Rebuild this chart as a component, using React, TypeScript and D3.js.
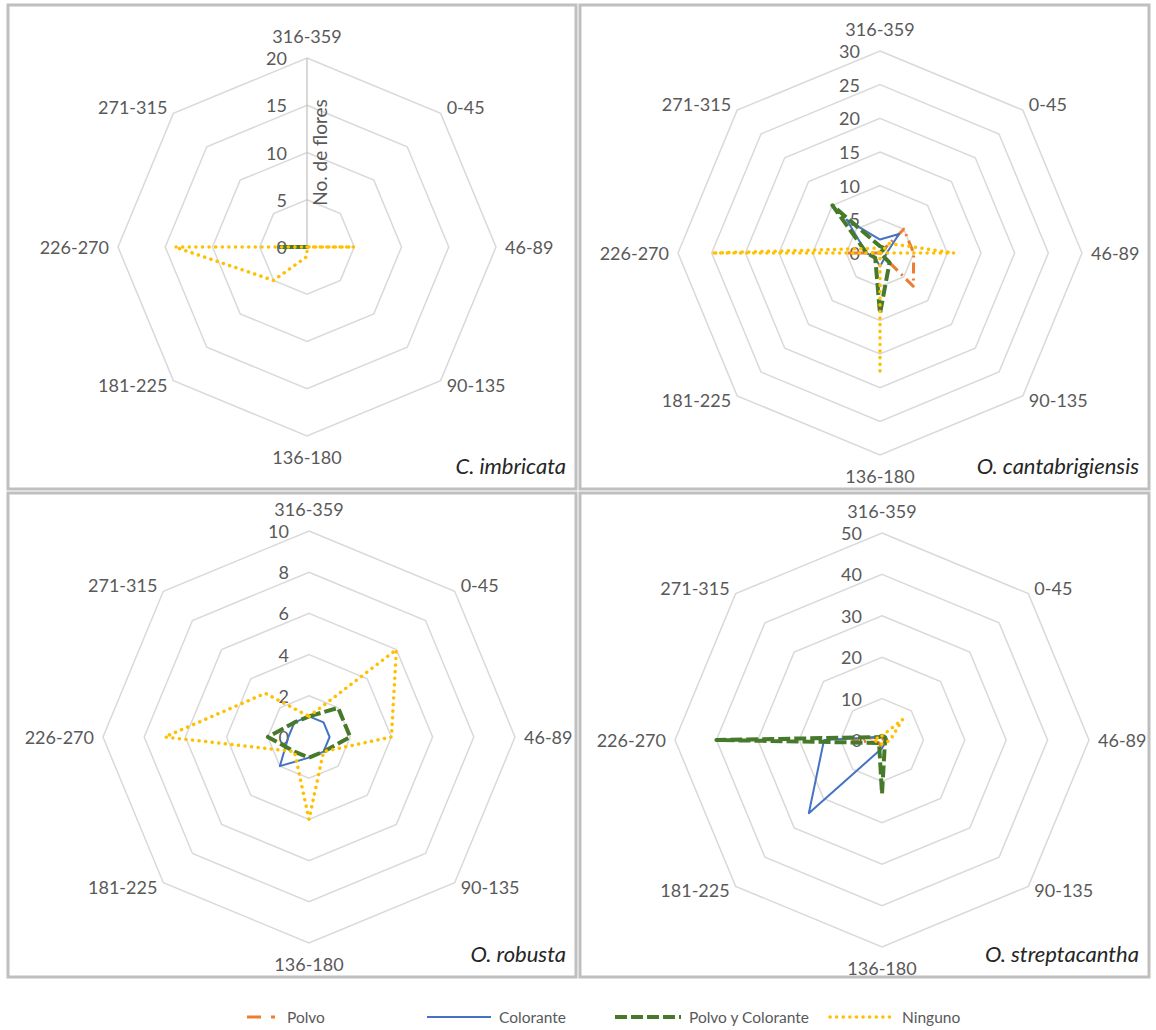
import React from 'react'
import * as d3 from 'd3'

// direction classes, clockwise from the top (Excel radar order)
const categories = ['316-359', '0-45', '46-89', '90-135', '136-180', '181-225', '226-270', '271-315']

const species = ['C. imbricata', 'O. cantabrigiensis', 'O. robusta', 'O. streptacantha']
const axisMax = [20, 30, 10, 50]
const tickStep = [5, 5, 2, 10]

const seriesNames = ['Polvo', 'Colorante', 'Polvo y Colorante', 'Ninguno']

// No. de flores per direction
const imbricataPolvo = [0, 0, 0, 0, 0, 0, 0, 0]
const imbricataColorante = [0, 0, 0, 0, 0, 0, 3, 0]
const imbricataAmbos = [0, 0, 0, 0, 0, 0, 3, 0]
const imbricataNinguno = [0, 0, 5, 0, 1, 5, 14, 0]

const cantabPolvo = [0, 5, 5, 7, 0, 0, 5, 0]
const cantabColorante = [2, 4, 1, 1, 2, 1, 2, 7]
const cantabAmbos = [1, 1, 0, 2, 9, 1, 2, 10]
const cantabNinguno = [0, 2, 11, 0, 18, 0, 25, 1]

const robustaPolvo = [0, 0, 0, 0, 0, 0, 0, 0]
const robustaColorante = [1, 1, 1, 1, 1, 2, 1, 1]
const robustaAmbos = [1, 2, 2, 1, 1, 1, 2, 1]
const robustaNinguno = [1, 6, 4, 1, 4, 1, 7, 3]

const streptPolvo = [0, 1, 1, 0, 2, 1, 7, 1]
const streptColorante = [1, 1, 1, 1, 2, 25, 14, 1]
const streptAmbos = [1, 1, 1, 1, 13, 1, 40, 1]
const streptNinguno = [1, 7, 2, 1, 1, 1, 2, 1]

const panelData = [
	[imbricataPolvo, imbricataColorante, imbricataAmbos, imbricataNinguno],
	[cantabPolvo, cantabColorante, cantabAmbos, cantabNinguno],
	[robustaPolvo, robustaColorante, robustaAmbos, robustaNinguno],
	[streptPolvo, streptColorante, streptAmbos, streptNinguno],
]

// look of each series
const styles = [
	{ color: '#ED7D31', width: 3, dash: '11,5,2,5', cap: 'butt' },
	{ color: '#4472C4', width: 2, dash: null, cap: 'butt' },
	{ color: '#47792A', width: 4, dash: '12,4', cap: 'butt' },
	{ color: '#FFC000', width: 3.5, dash: '0.1,6.5', cap: 'round' },
]

// panel frames and radar geometry
const panels = [
	{ x: 8, y: 5, w: 568, h: 484, cx: 307, cy: 247, r: 189, title: true },
	{ x: 580, y: 5, w: 569, h: 484, cx: 880, cy: 253, r: 202, title: false },
	{ x: 8, y: 493, w: 568, h: 484, cx: 309, cy: 737, r: 206, title: false },
	{ x: 580, y: 493, w: 569, h: 484, cx: 882, cy: 740, r: 207, title: false },
]

const font = 'Lato, "Open Sans", sans-serif'
const textColor = '#595959'
const gridColor = '#D9D9D9'

const angleOf = (i: number) => (i * 2 * Math.PI) / categories.length

function Radar({ p, k }: { p: any; k: number }) {
	const rScale = d3.scaleLinear().domain([0, axisMax[k]]).range([0, p.r])
	const ticks = d3.range(0, axisMax[k] + tickStep[k] / 2, tickStep[k])

	const radial = d3.lineRadial<number>()
		.angle((d, i) => angleOf(i))
		.radius((d) => rScale(d))
		.curve(d3.curveLinearClosed)

	const labelFor = (c: string, i: number) => {
		const a = angleOf(i)
		const vx = Math.sin(a) * p.r
		const vy = -Math.cos(a) * p.r
		let x = vx
		let y = vy
		let anchor = 'middle'
		if (i === 0) y = vy - 22
		else if (i === 4) y = vy + 21
		else if (i === 2) { x = vx + 9; anchor = 'start' }
		else if (i === 6) { x = vx - 9; anchor = 'end' }
		else if (i === 1) { x = vx + 6; y = vy - 6; anchor = 'start' }
		else if (i === 3) { x = vx + 6; y = vy + 4; anchor = 'start' }
		else if (i === 5) { x = vx - 6; y = vy + 4; anchor = 'end' }
		else { x = vx - 6; y = vy - 6; anchor = 'end' }
		return (
			<text key={c} x={x} y={y} textAnchor={anchor} dominantBaseline="central"
				fontSize={18} fill={textColor} fontFamily={font}>{c}</text>
		)
	}

	return (
		<g>
			<rect x={p.x} y={p.y} width={p.w} height={p.h} fill="white" stroke="#BFBFBF" strokeWidth={3} />
			<g transform={`translate(${p.cx},${p.cy})`}>
				{ticks.slice(1).map((t) => (
					<path key={t} d={radial(categories.map(() => t)) || ''} fill="none" stroke={gridColor} strokeWidth={1.5} />
				))}
				{p.title && <line x1={0} y1={0} x2={0} y2={-p.r} stroke="#BFBFBF" strokeWidth={1.2} />}
				{ticks.map((t) => (
					<text key={'t' + t} x={-20} y={-rScale(t)} textAnchor="end" dominantBaseline="central"
						fontSize={18} fill={textColor} fontFamily={font}>{t}</text>
				))}
				{p.title && (
					<text transform={`translate(20,${-rScale(axisMax[k] * 0.5)}) rotate(-90)`} textAnchor="middle"
						fontSize={19} fill={textColor} fontFamily={font}>No. de flores</text>
				)}
				{categories.map(labelFor)}
				{panelData[k].map((vals, s) => (
					<path key={seriesNames[s]} d={radial(vals) || ''} fill="none"
						stroke={styles[s].color} strokeWidth={styles[s].width}
						strokeDasharray={styles[s].dash || undefined}
						strokeLinejoin="round" strokeLinecap={styles[s].cap as any} />
				))}
			</g>
			<text x={p.x + p.w - 10} y={p.y + p.h - 24} textAnchor="end" dominantBaseline="central"
				fontSize={22} fontStyle="italic" fill="#262626" fontFamily={font}>{species[k]}</text>
		</g>
	)
}

// legend entries
const legendX = [247, 427, 615, 830]
const legendLen = [32, 64, 66, 64]

export default function App() {
	return (
		<svg width={1156} height={1030} style={{ position: 'absolute', left: 0, top: 0, background: 'white' }}>
			{panels.map((p, k) => <Radar key={species[k]} p={p} k={k} />)}
			<g>
				{seriesNames.map((n, s) => (
					<g key={n}>
						<line x1={legendX[s]} x2={legendX[s] + legendLen[s]} y1={1017} y2={1017}
							stroke={styles[s].color} strokeWidth={styles[s].width}
							strokeDasharray={s === 0 ? '14,10,4,10' : styles[s].dash || undefined}
							strokeLinecap={styles[s].cap as any} />
						<text x={legendX[s] + legendLen[s] + 8} y={1017} dominantBaseline="central"
							fontSize={15.5} fill={textColor} fontFamily={font}>{n}</text>
					</g>
				))}
			</g>
		</svg>
	)
}
